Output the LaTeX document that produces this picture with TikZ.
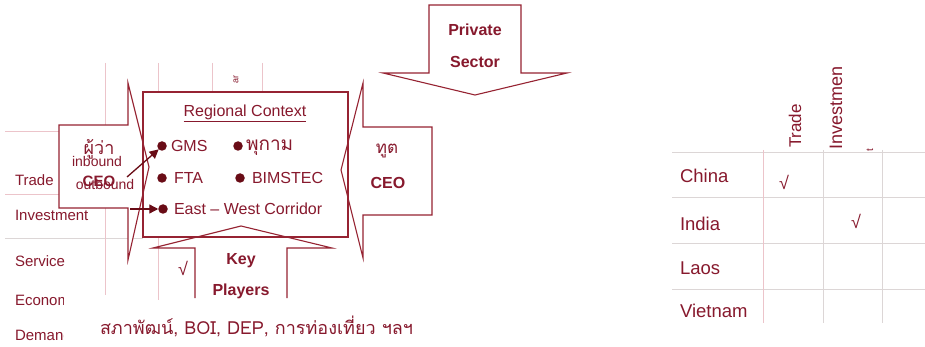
\documentclass[tikz,border=0pt]{standalone}
\usepackage{fontspec}
\setmainfont{Liberation Sans}
\newfontfamily\thaifont[Script=Thai]{Loma}
\usetikzlibrary{arrows.meta}
\definecolor{txt}{RGB}{135,25,45}
\definecolor{edge}{RGB}{150,35,50}
\definecolor{faint}{RGB}{236,196,202}
\definecolor{gridc}{RGB}{220,214,214}
\definecolor{dark}{RGB}{105,12,22}
\tikzset{
  every node/.style={text=txt, inner sep=0pt, outer sep=0pt},
  fs/.style={font=\fontsize{#1}{#1}\selectfont},
  fsb/.style={font=\fontsize{#1}{#1}\selectfont\bfseries},
  fst/.style={font=\fontsize{#1}{#1}\selectfont\thaifont},
  shapeline/.style={draw=edge, line width=1.1pt, line join=miter},
  shapefill/.style={fill=white},
  bgline/.style={draw=faint, line width=0.8pt},
  gridline/.style={draw=gridc, line width=0.8pt},
  bulletdot/.style={circle, fill=dark, minimum size=9.5pt},
  conn/.style={draw=dark, line width=1.3pt, -{Triangle[length=9pt,width=9pt]}},
}
\begin{document}
\begin{tikzpicture}[x=1pt,y=-1pt]
\useasboundingbox[fill=white] (0,0) rectangle (925,347);

% ---------- background table (left) ----------
\draw[bgline] (5,131) -- (59,131);
\draw[bgline] (5,194) -- (59,194);
\draw[gridline] (5,238) -- (143,238);
\draw[bgline] (105,63) -- (105,295);
\draw[bgline] (158,63) -- (158,300);
\draw[bgline] (212,63) -- (212,92);
\draw[bgline] (262,63) -- (262,92);

% ---------- shapes: fills ----------
\path[shapefill] (59,125) -- (128,125) -- (128,83) -- (149,167) -- (128,260) -- (128,208) -- (59,208) -- cycle;
\path[shapefill] (432,127) -- (363,127) -- (363,83) -- (341,170) -- (363,258) -- (363,215) -- (432,215) -- cycle;
\path[shapefill] (429,5) -- (521,5) -- (521,73) -- (567,73) -- (475,95) -- (383,73) -- (429,73) -- cycle;
\path[shapefill] (195,298) -- (195,248) -- (153,248) -- (241,226) -- (332,248) -- (287,248) -- (287,298) -- cycle;
\path[shapefill] (143,92) rectangle (348,237);

% ---------- shapes: outlines ----------
\draw[shapeline] (59,125) -- (128,125) -- (128,83) -- (149,167) -- (128,260) -- (128,208) -- (59,208) -- cycle;
\draw[shapeline] (432,127) -- (363,127) -- (363,83) -- (341,170) -- (363,258) -- (363,215) -- (432,215) -- cycle;
\draw[shapeline] (429,5) -- (521,5) -- (521,73) -- (567,73) -- (475,95) -- (383,73) -- (429,73) -- cycle;
\draw[shapeline] (195,298) -- (195,248) -- (153,248) -- (241,226) -- (332,248) -- (287,248) -- (287,298);
\draw[shapeline] (143,92) rectangle (348,237);

% ---------- left table labels ----------
\node[fs=15, anchor=west] (ltrade) at (15,180) {Trade};
\node[fs=15, anchor=west] (linv) at (15,215) {Investment};
\node[fs=15, anchor=west] (lserv) at (15,261) {Service};
\begin{scope}
  \clip (0,285) rectangle (63,347);
  \node[fs=15, anchor=west] (lecon) at (15,300) {Economic};
  \node[fs=15, anchor=west] (ldem) at (15,335) {Demand};
\end{scope}
\node[fs=9, rotate=90] (lar) at (236,80) {ar};

% ---------- regional context box ----------
\node[fs=16] (rc) at (245,113) {\underline{Regional Context}};
\node[bulletdot] (b1) at (162,146) {};
\node[fs=16, anchor=west] (gms) at (171,146) {GMS};
\node[bulletdot] (b2) at (238,146) {};
\node[fst=19, anchor=west] (pk) at (246,148) {พุกาม};
\node[bulletdot] (b3) at (162,178) {};
\node[fs=16, anchor=west] (fta) at (174,178) {FTA};
\node[bulletdot] (b4) at (240,178) {};
\node[fs=16, anchor=west] (bim) at (252,178) {BIMSTEC};
\node[bulletdot] (b5) at (163,209) {};
\node[fs=16, anchor=west] (ew) at (174,209) {East -- West Corridor};

% ---------- left arrow texts ----------
\node[fst=18] (phuwa) at (99,149) {ผู้ว่า};
\node[fs=14] (inb) at (97,161) {inbound};
\node[fs=14] (outb) at (105,184) {outbound};
\node[fsb=15] (ceol) at (99,181) {CEO};
\coordinate (obstart) at (127,177);
\coordinate (ewstart) at (130,209);
\draw[conn] (obstart) -- (b1.south west);
\draw[conn] (ewstart) -- (b5.west);

% ---------- right arrow texts ----------
\node[fst=17] (thut) at (387,151) {ทูต};
\node[fsb=16] (ceor) at (388,183) {CEO};

% ---------- top arrow texts ----------
\node[fsb=16] (priv) at (475,30) {Private};
\node[fsb=16] (sect) at (475,62) {Sector};

% ---------- bottom arrow texts ----------
\node[fs=18] (chk0) at (183,268) {√};
\node[fsb=16] (key) at (241,261) {Key};
\node[fsb=16] (play) at (241,291) {Players};
\node[fst=18, anchor=west] (agencies) at (100,327) {สภาพัฒน์, BOI, DEP, การท่องเที่ยว ฯลฯ};

% ---------- right table ----------
\foreach \yy in {152,197,243,289} \draw[gridline] (672,\yy) -- (925,\yy);
\draw[bgline] (763,150) -- (763,323);
\draw[gridline] (823,150) -- (823,323);
\draw[gridline] (882,150) -- (882,323);
\node[fs=17, rotate=90, anchor=west] (htrade) at (795,148) {Trade};
\node[fs=18, rotate=90, anchor=west] (hinv) at (836,150) {Investmen};
\node[fs=10, rotate=90] (ht) at (870,150) {t};
\node[fs=18.5, anchor=west] (china) at (680,176) {China};
\node[fs=18.5, anchor=west] (india) at (680,224) {India};
\node[fs=18.5, anchor=west] (laos) at (680,268) {Laos};
\node[fs=18.5, anchor=west] (viet) at (680,311) {Vietnam};
\node[fs=18] (chk1) at (784,182) {√};
\node[fs=18] (chk2) at (856,221) {√};
\end{tikzpicture}
\end{document}
